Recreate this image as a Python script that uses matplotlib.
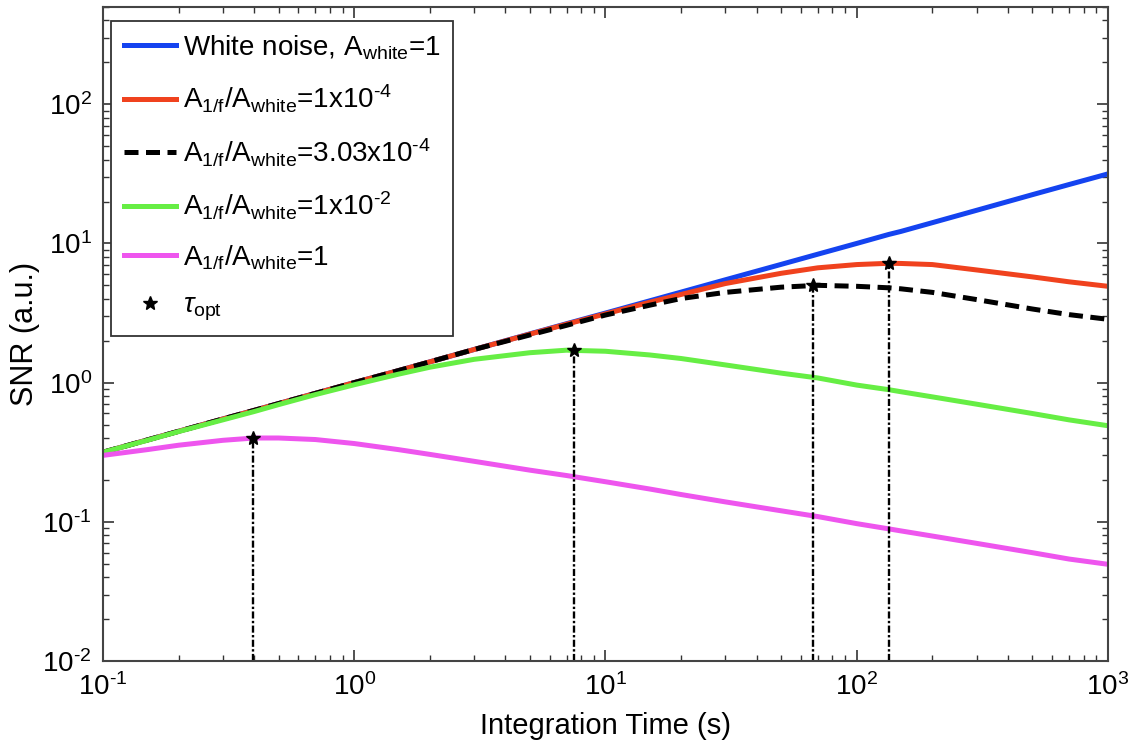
import matplotlib
matplotlib.use("Agg")
import numpy as np
import matplotlib.pyplot as plt
from matplotlib.ticker import LogLocator, NullFormatter, FuncFormatter

plt.rcParams['font.family'] = ['Liberation Sans', 'DejaVu Sans']
plt.rcParams['mathtext.fontset'] = 'custom'
plt.rcParams['mathtext.rm'] = 'Liberation Sans'
plt.rcParams['mathtext.it'] = 'Liberation Sans:italic'
plt.rcParams['mathtext.bf'] = 'Liberation Sans:bold'

# integration times (s)
t = [0.1, 0.15, 0.2, 0.3, 0.4, 0.5, 0.7, 1, 1.5, 2, 3, 5, 7, 10, 15, 20,
     30, 50, 70, 100, 134, 150, 200, 300, 500, 700, 1000]

# SNR (a.u.) for each noise mix
snr_white = [0.316, 0.387, 0.447, 0.548, 0.632, 0.707, 0.837, 1.0, 1.22, 1.41,
             1.73, 2.24, 2.65, 3.16, 3.87, 4.47, 5.48, 7.07, 8.37, 10.0, 11.6,
             12.2, 14.1, 17.3, 22.4, 26.5, 31.6]
snr_1e4 = [0.316, 0.387, 0.447, 0.548, 0.632, 0.707, 0.837, 1.0, 1.22, 1.41,
           1.73, 2.23, 2.63, 3.12, 3.78, 4.30, 5.15, 6.1, 6.68, 7.05, 7.2,
           7.18, 7.05, 6.45, 5.75, 5.3, 4.92]
snr_303e4 = [0.316, 0.387, 0.447, 0.548, 0.632, 0.707, 0.837, 1.0, 1.22, 1.41,
             1.73, 2.2, 2.58, 3.06, 3.6, 4.02, 4.45, 4.85, 5.0, 4.92, 4.8,
             4.72, 4.45, 3.95, 3.38, 3.08, 2.85]
snr_1e2 = [0.316, 0.385, 0.445, 0.54, 0.62, 0.695, 0.82, 0.965, 1.15, 1.29,
           1.47, 1.64, 1.71, 1.68, 1.58, 1.49, 1.34, 1.17, 1.08, 0.96, 0.89,
           0.86, 0.79, 0.70, 0.60, 0.54, 0.49]
snr_1 = [0.30, 0.33, 0.355, 0.385, 0.40, 0.40, 0.39, 0.365, 0.33, 0.305,
         0.272, 0.235, 0.215, 0.194, 0.172, 0.157, 0.139, 0.12, 0.109, 0.097,
         0.089, 0.086, 0.079, 0.07, 0.06, 0.054, 0.0495]

# optimum integration time and the SNR reached there
tau_opt = [0.396, 7.5, 67, 134]
snr_opt = [0.40, 1.72, 5.0, 7.2]

fig = plt.figure(figsize=(11.33, 7.42), dpi=100)
ax = fig.add_axes([0.0909, 0.1092, 0.887, 0.8814])

lw = 3.6
ax.plot(t, snr_white, color='#1443f0', lw=lw, label=r'White noise, A$_{\mathregular{white}}$=1')
ax.plot(t, snr_1e4, color='#f0421e', lw=lw,
        label=r'A$_{\mathregular{1/f}}$/A$_{\mathregular{white}}$=1x10$^{\text{-4}}$')
ax.plot(t, snr_303e4, color='black', lw=lw, dashes=(2.8, 1.5),
        label=r'A$_{\mathregular{1/f}}$/A$_{\mathregular{white}}$=3.03x10$^{\text{-4}}$')
ax.plot(t, snr_1e2, color='#66ee44', lw=lw,
        label=r'A$_{\mathregular{1/f}}$/A$_{\mathregular{white}}$=1x10$^{\text{-2}}$')
ax.plot(t, snr_1, color='#ee55ee', lw=lw,
        label=r'A$_{\mathregular{1/f}}$/A$_{\mathregular{white}}$=1')

# drop lines from each optimum to the time axis
for x, y in zip(tau_opt, snr_opt):
    ax.plot([x, x], [1e-2, y], color='black', lw=1.7, ls=(0, (3, 1, 1, 1)))
ax.plot(tau_opt, snr_opt, ls='none', marker='*', color='black', ms=10,
        label=r'$\tau_{\mathregular{opt}}$')

ax.set_xscale('log')
ax.set_yscale('log')
ax.set_xlim(0.1, 1000)
ax.set_ylim(1e-2, 500)

decade_fmt = FuncFormatter(lambda v, pos: r'$\mathregular{10^{\text{%d}}}$' % round(np.log10(v)))
for axis in (ax.xaxis, ax.yaxis):
    axis.set_major_locator(LogLocator(base=10, numticks=10))
    axis.set_minor_locator(LogLocator(base=10, subs=range(2, 10), numticks=20))
    axis.set_major_formatter(decade_fmt)
    axis.set_minor_formatter(NullFormatter())

ax.tick_params(which='both', direction='in', top=True, right=True, colors='#333333',
               labelcolor='black', labelsize=20)
ax.tick_params(which='major', length=8, width=1.2)
ax.tick_params(axis='x', which='major', pad=9)
ax.tick_params(axis='y', which='major', pad=8)
ax.tick_params(which='minor', length=4.5, width=1.0)
for s in ax.spines.values():
    s.set_color('#444444')
    s.set_linewidth(1.5)

ax.set_xlabel('Integration Time (s)', fontsize=21, labelpad=8)
ax.set_ylabel('SNR (a.u.)', fontsize=22, labelpad=2)

leg = ax.legend(loc='upper left', bbox_to_anchor=(0.008, 0.979), borderaxespad=0,
                fontsize=20, handlelength=1.9, handletextpad=0.25, labelspacing=0.76,
                borderpad=0.45, fancybox=False, framealpha=1, edgecolor='#333333')
leg.get_frame().set_linewidth(1.3)

fig.savefig('out.png', dpi=100)
